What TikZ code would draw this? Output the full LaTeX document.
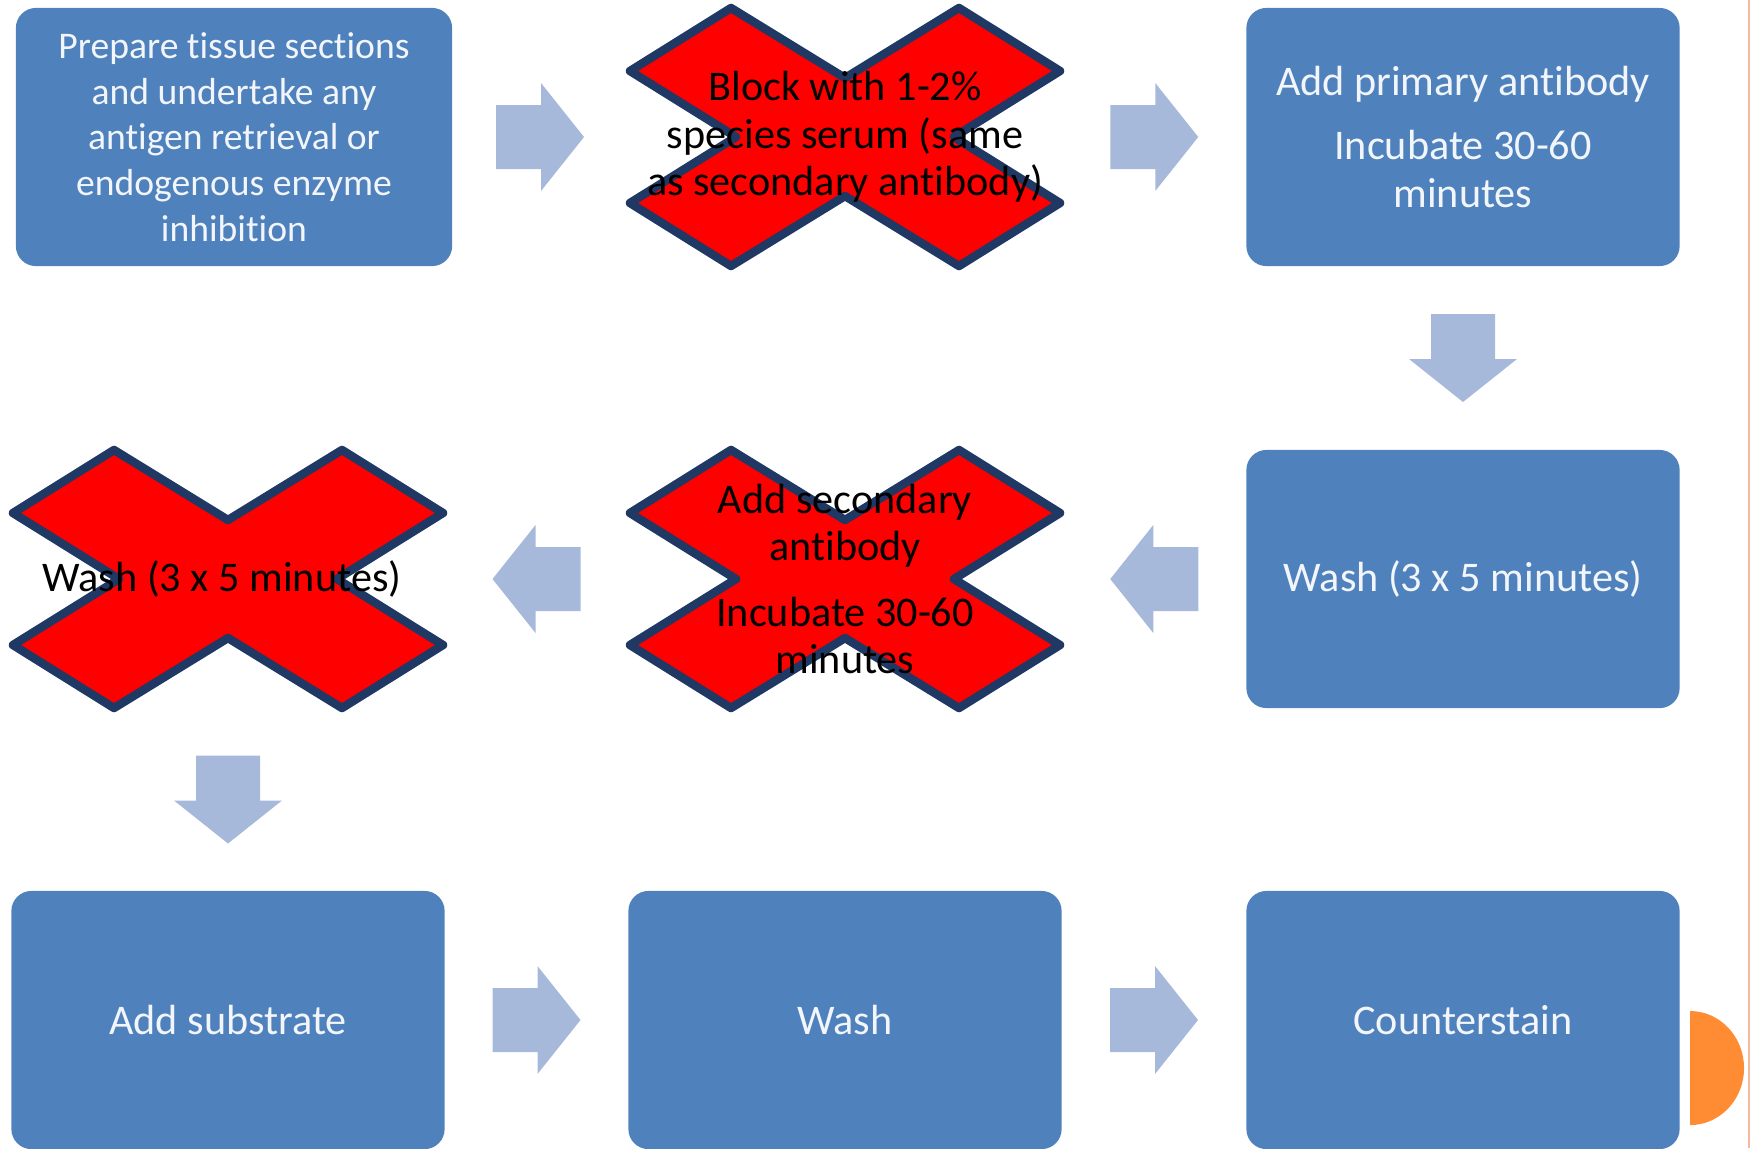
\documentclass[tikz,border=0pt]{standalone}
\usepackage{fontspec}
\setmainfont{Carlito}[Ligatures=NoCommon]
\usetikzlibrary{calc, positioning}

\definecolor{stepblue}{RGB}{79,129,189}
\definecolor{steptext}{RGB}{242,245,250}
\definecolor{arrowblue}{RGB}{167,185,218}
\definecolor{crossred}{RGB}{255,0,0}
\definecolor{crossnavy}{RGB}{31,56,100}
\definecolor{slideorange}{RGB}{255,140,50}
\definecolor{slideline}{RGB}{244,185,160}

% red "multiply" mark drawn round a centre point
\newcommand{\crossmark}[1]{%
  \draw[crossline, shift={(#1)}] (-114,-129) -- (0,-59) -- (114,-129) -- (215,-66)
    -- (109,0) -- (215,66) -- (114,129) -- (0,59) -- (-114,129) -- (-215,66)
    -- (-109,0) -- (-215,-66) -- cycle;}
% block arrow at a point, turned by an angle
\newcommand{\flowarrow}[2]{%
  \fill[arrowblue, shift={(#1)}, rotate=#2] (-44,-32) -- (1,-32) -- (1,-54) -- (44,0)
    -- (1,54) -- (1,32) -- (-44,32) -- cycle;}

\begin{document}
\begin{tikzpicture}[x=0.01cm, y=-0.01cm,
    stepbox/.style={rectangle, rounded corners=0.2cm, fill=stepblue, text=steptext,
      minimum width=4.33cm, minimum height=2.58cm, inner sep=0pt, align=center,
      font=\fontsize{12}{13.7}\selectfont},
    crossed/.style={rectangle, minimum width=4.34cm, minimum height=2.58cm, inner sep=0pt,
      align=center, text=black, font=\fontsize{12}{13.5}\selectfont},
    crossline/.style={fill=crossred, draw=crossnavy, line width=0.085cm, line join=round}]
    \useasboundingbox (0,0) rectangle (1752,1148);
    % slide decoration
    \draw[slideline, line width=0.02cm] (1749,0) -- (1749,1148);
    \fill[slideorange] (1690,1011) arc[start angle=90, end angle=-90, x radius=0.54cm, y radius=0.57cm] -- cycle;
    % first row
    \node[stepbox, minimum width=4.36cm, font=\fontsize{10.7}{13}\selectfont] (prep) at (234,137)
      {Prepare tissue sections\\and undertake any\\antigen retrieval or\\endogenous enzyme\\inhibition};
    \coordinate (c-block) at (845,137);
    \crossmark{c-block}
    \node[crossed] (block) at (c-block) {Block with 1-2\%\\species serum (same\\as secondary antibody)};
    \node[stepbox] (primary) at (1463,137) {Add primary antibody\\[0.16cm]Incubate 30-60\\minutes};
    % second row
    \node[stepbox] (washa) at (1463,579) {Wash (3 x 5 minutes)};
    \coordinate (c-second) at (845,579);
    \crossmark{c-second}
    \node[crossed] (second) at (c-second) {Add secondary\\antibody\\[0.18cm]Incubate 30-60\\minutes};
    \coordinate (c-washb) at (228,579);
    \crossmark{c-washb}
    \node[crossed] (washb) at (c-washb) {Wash (3 x 5 minutes)\hspace*{0.12cm}};
    % third row
    \node[stepbox] (substrate) at (228,1020) {Add substrate};
    \node[stepbox] (washc) at (845,1020) {Wash};
    \node[stepbox] (counter) at (1463,1020) {Counterstain};
    % block arrows between the steps
    \coordinate (a1) at ($(prep.east)!0.5!(block.west)$);
    \coordinate (a2) at ($(block.east)!0.5!(primary.west)$);
    \coordinate (a3) at ($(primary.south)!0.5!(washa.north)$);
    \coordinate (a4) at ($(washa.west)!0.5!(second.east)$);
    \coordinate (a5) at ($(second.west)!0.5!(washb.east)$);
    \coordinate (a6) at ($(washb.south)!0.5!(substrate.north)$);
    \coordinate (a7) at ($(substrate.east)!0.5!(washc.west)$);
    \coordinate (a8) at ($(washc.east)!0.5!(counter.west)$);
    \flowarrow{a1}{0}
    \flowarrow{a2}{0}
    \flowarrow{a3}{-90}
    \flowarrow{a4}{180}
    \flowarrow{a5}{180}
    \flowarrow{a6}{-90}
    \flowarrow{a7}{0}
    \flowarrow{a8}{0}
\end{tikzpicture}
\end{document}
